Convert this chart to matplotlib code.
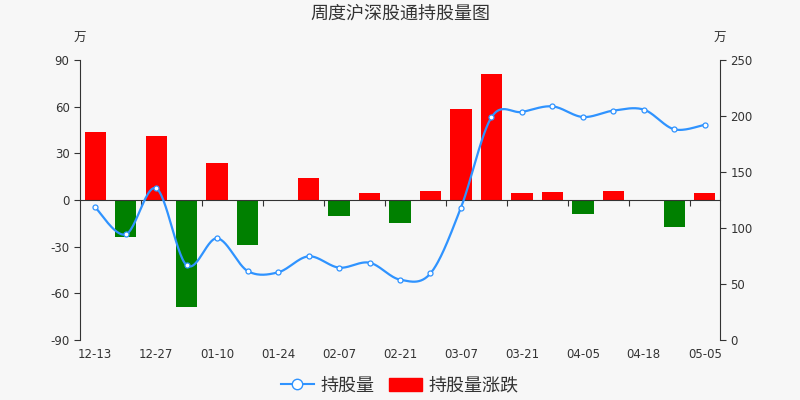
import numpy as np
import matplotlib
matplotlib.use('Agg')
from matplotlib import pyplot as plt
from matplotlib.lines import Line2D
from matplotlib.patches import FancyBboxPatch

plt.rcParams['font.family'] = ['Noto Sans CJK SC', 'DejaVu Sans']
plt.rcParams['axes.unicode_minus'] = False

##################################################
# Data

dates = ['12-13', '12-20', '12-27', '01-03', '01-10', '01-17', '01-24', '01-31',
         '02-07', '02-14', '02-21', '02-28', '03-07', '03-14', '03-21', '03-28',
         '04-05', '04-11', '04-18', '04-25', '05-05']
holding = [118.4, 94.3, 135.4, 66.7, 90.8, 61.6, 60.4, 74.7, 64.6, 69.0, 53.9,
           59.5, 118.2, 198.8, 203.6, 208.6, 199.1, 204.8, 205.7, 188.1, 192.2]
change = [43.8, -24.0, 41.3, -68.6, 23.8, -28.7, 0.0, 13.9, -10.1, 4.5, -14.8,
          5.8, 58.7, 80.8, 4.7, 5.1, -9.0, 5.6, 0.0, -17.1, 4.5]

BG = '#f7f7f7'
TXT = '#333333'
BLUE = '#2f93ff'
TICKFONT = 'DejaVu Sans'


def smooth_curve(x, y, steps=30):
    # Catmull-Rom through the points, only for drawing the line
    x = np.asarray(x, float)
    y = np.asarray(y, float)
    px = np.concatenate([[x[0]], x, [x[-1]]])
    py = np.concatenate([[y[0]], y, [y[-1]]])
    xs, ys = [], []
    t = np.linspace(0, 1, steps)
    for i in range(1, len(px) - 2):
        for arr, out in ((px, xs), (py, ys)):
            p0, p1, p2, p3 = arr[i - 1], arr[i], arr[i + 1], arr[i + 2]
            out.extend(0.5 * ((2 * p1) + (-p0 + p2) * t
                              + (2 * p0 - 5 * p1 + 4 * p2 - p3) * t ** 2
                              + (-p0 + 3 * p1 - 3 * p2 + p3) * t ** 3))
    return np.array(xs), np.array(ys)


##################################################
# Figure

fig = plt.figure(figsize=(8, 4), dpi=100, facecolor=BG)
ax = fig.add_axes([0.1, 0.15, 0.8, 0.7])
ax.set_facecolor(BG)
ax2 = ax.twinx()

x = np.arange(len(dates))
colors = ['#ff0000' if v >= 0 else '#008000' for v in change]
ax.bar(x, change, width=0.7, color=colors, zorder=2)

ax.set_xlim(-0.5, len(dates) - 0.5)
ax.set_ylim(-90, 90)
ax.set_yticks(np.arange(-90, 91, 30))
ax2.set_ylim(0, 250)
ax2.set_yticks(np.arange(0, 251, 50))

# x axis line at zero with boundary ticks
ax.spines['bottom'].set_position(('data', 0))
ax.spines['top'].set_visible(False)
ax.spines['right'].set_visible(False)
ax.set_xticks(np.arange(1.5, len(dates), 2))
ax.tick_params(axis='x', direction='out', length=4, labelbottom=False, color=TXT)

sec = ax.secondary_xaxis(0)
sec.set_xticks(x[::2])
sec.set_xticklabels(dates[::2], family=TICKFONT)
sec.tick_params(length=0, pad=6, labelsize=8.5, labelcolor=TXT)
sec.spines['bottom'].set_visible(False)

for a in (ax, ax2):
    a.tick_params(axis='y', length=4, labelsize=8.5, labelcolor=TXT, color=TXT)
    for lab in a.get_yticklabels():
        lab.set_family(TICKFONT)
    for s in a.spines.values():
        s.set_color(TXT)
ax2.spines['top'].set_visible(False)
ax2.spines['left'].set_visible(False)
ax2.spines['bottom'].set_visible(False)

sx, sy = smooth_curve(x, holding)
ax2.plot(sx, sy, color=BLUE, lw=1.6, zorder=3)
ax2.plot(x, holding, ls='none', marker='o', ms=3.6, mfc='white', mec=BLUE, mew=0.9, zorder=4)

fig.text(0.5, 0.965, '周度沪深股通持股量图', ha='center', va='center', fontsize=13, color=TXT)
fig.text(0.1, 0.905, '万', ha='center', va='center', fontsize=9, color=TXT)
fig.text(0.9, 0.905, '万', ha='center', va='center', fontsize=9, color=TXT)

# legend
handles = [Line2D([0], [0], color=BLUE, lw=1.5, marker='o', ms=7.5, mfc='white', mec=BLUE),
           FancyBboxPatch((0, 0), 1, 1, boxstyle='round,pad=0.1', color='#ff0000')]
fig.legend(handles, ['持股量', '持股量涨跌'], loc='center', bbox_to_anchor=(0.5, 0.036),
           ncol=2, frameon=False, fontsize=13, handlelength=1.8, columnspacing=0.8,
           handletextpad=0.4, labelcolor=TXT)

fig.savefig('out.png', dpi=100, facecolor=BG)
